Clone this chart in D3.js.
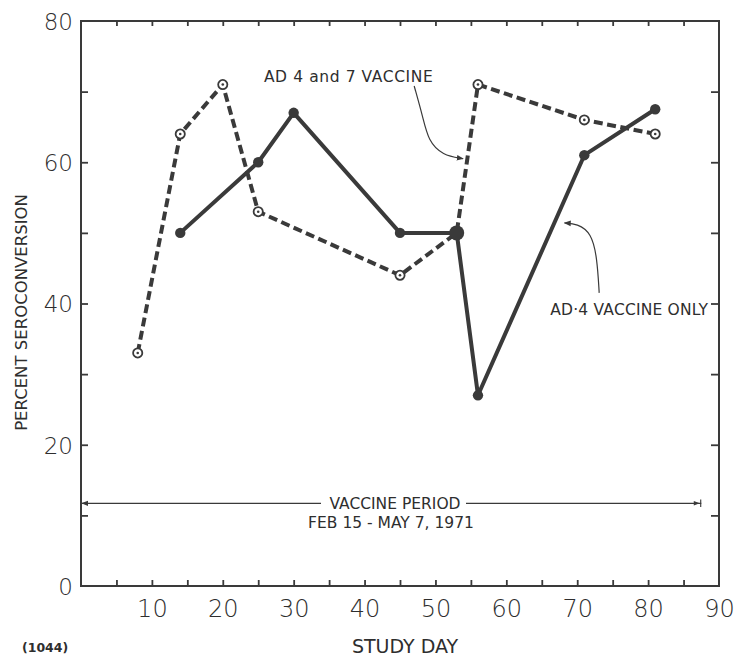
<!DOCTYPE html>
<html>
<head>
<meta charset="utf-8">
<script src="https://cdn.jsdelivr.net/npm/d3@7"></script>
<style>
  html, body { margin: 0; padding: 0; background: #fff; }
  svg { display: block; }
  text { font-family: "DejaVu Sans", "Liberation Sans", sans-serif; fill: #2e2e2e; }
</style>
</head>
<body>
<svg id="chart" width="735" height="658"></svg>
<script>
// Percent seroconversion by study day
const combinedDays   = [8, 14, 20, 25, 45, 53, 56, 71, 81];
const combinedValues = [33, 64, 71, 53, 44, 50, 71, 66, 64];
const ad4Days   = [14, 25, 30, 45, 53, 56, 71, 81];
const ad4Values = [50, 60, 67, 50, 50, 27, 61, 67.5];
const yTickLabels = [0, 20, 40, 60, 80];
const xTickLabels = [10, 20, 30, 40, 50, 60, 70, 80, 90];
const vaccinePeriod = [0, 87.5];   // study days covered by the vaccine period
const vaccinePeriodLevel = 11.7;   // percent level of the period arrow

const svg = d3.select("#chart");
const ink = "#3a3a3a";

const x = d3.scaleLinear().domain([0, 90]).range([81, 719]);
const y = d3.scaleLinear().domain([0, 80]).range([586, 21]);

// Frame
svg.append("rect")
  .attr("x", x(0)).attr("y", y(80))
  .attr("width", x(90) - x(0)).attr("height", y(0) - y(80))
  .attr("fill", "none").attr("stroke", ink).attr("stroke-width", 2);

// Inward ticks on all four sides
const minorX = d3.range(5, 90, 5);
const minorY = d3.range(10, 80, 10);
function tickAxis(axis, transform) {
  const g = svg.append("g").attr("transform", transform).call(axis);
  g.select(".domain").remove();
  g.selectAll(".tick line").attr("stroke", ink).attr("stroke-width", 1.8);
  g.selectAll(".tick text").remove();
}
tickAxis(d3.axisBottom(x).tickValues(minorX).tickSizeInner(-6).tickSizeOuter(0), `translate(0,${y(0)})`);
tickAxis(d3.axisTop(x).tickValues(minorX).tickSizeInner(-5).tickSizeOuter(0), `translate(0,${y(80)})`);
tickAxis(d3.axisLeft(y).tickValues(minorY).tickSizeInner(-7).tickSizeOuter(0), `translate(${x(0)},0)`);
tickAxis(d3.axisRight(y).tickValues(minorY).tickSizeInner(-8).tickSizeOuter(0), `translate(${x(90)},0)`);

// Tick labels
const yLab = svg.append("g").attr("transform", `translate(${x(0) - 8},0)`)
  .call(d3.axisLeft(y).tickValues(yTickLabels).tickSize(0).tickPadding(0));
yLab.select(".domain").remove();
yLab.selectAll("text").attr("font-size", 23).attr("font-weight", 200)
  .attr("fill", "#222").attr("dy", "0.36em")
  .style("font-family", "'DejaVu Sans', sans-serif");

const xLab = svg.append("g").attr("transform", `translate(0,${y(0) + 14})`)
  .call(d3.axisBottom(x).tickValues(xTickLabels).tickSize(0).tickPadding(0));
xLab.select(".domain").remove();
xLab.selectAll("text").attr("font-size", 24).attr("font-weight", 200)
  .attr("fill", "#222").attr("dy", "0.71em")
  .style("font-family", "'DejaVu Sans', sans-serif");

// Axis titles
svg.append("text").attr("x", 405).attr("y", 653)
  .attr("text-anchor", "middle").attr("font-size", 19)
  .text("STUDY  DAY");
svg.append("text")
  .attr("transform", `translate(27,${(185 + 440) / 2}) rotate(-90)`)
  .attr("text-anchor", "middle").attr("font-size", 16.5)
  .text("PERCENT  SEROCONVERSION");
svg.append("text").attr("x", 22).attr("y", 652)
  .attr("font-size", 12.5).attr("font-weight", "bold").attr("fill", "#444")
  .text("(1044)");

// Series lines
const line = d3.line().x(d => x(d[0])).y(d => y(d[1]));
const combined = combinedDays.map((d, i) => [d, combinedValues[i]]);
const ad4 = ad4Days.map((d, i) => [d, ad4Values[i]]);

svg.append("path").datum(combined).attr("d", line)
  .attr("fill", "none").attr("stroke", ink).attr("stroke-width", 4)
  .attr("stroke-dasharray", "9,4.5").attr("stroke-linejoin", "round");

svg.append("path").datum(ad4).attr("d", line)
  .attr("fill", "none").attr("stroke", ink).attr("stroke-width", 4)
  .attr("stroke-linejoin", "round");

// Open markers of the combined-vaccine series
const open = svg.append("g").selectAll("g").data(combined).join("g")
  .attr("transform", d => `translate(${x(d[0])},${y(d[1])})`);
open.append("circle").attr("r", 4.6).attr("fill", "#fff")
  .attr("stroke", ink).attr("stroke-width", 1.8);
open.append("circle").attr("r", 1.3).attr("fill", ink);

// Filled markers of the AD-4 series (the day-53 point is drawn larger)
svg.append("g").selectAll("circle").data(ad4).join("circle")
  .attr("cx", d => x(d[0])).attr("cy", d => y(d[1]))
  .attr("r", d => d[0] === 53 ? 7.5 : 5.2)
  .attr("fill", ink);

// Arrowhead marker
const defs = svg.append("defs");
defs.append("marker").attr("id", "head")
  .attr("viewBox", "0 0 10 10").attr("refX", 9).attr("refY", 5)
  .attr("markerWidth", 7).attr("markerHeight", 7)
  .attr("markerUnits", "userSpaceOnUse").attr("orient", "auto")
  .append("path").attr("d", "M0,1 L10,5 L0,9 Z").attr("fill", ink);
defs.append("marker").attr("id", "headbar")
  .attr("viewBox", "0 0 12 12").attr("refX", 11).attr("refY", 6)
  .attr("markerWidth", 9).attr("markerHeight", 9)
  .attr("markerUnits", "userSpaceOnUse").attr("orient", "auto")
  .append("path").attr("d", "M1,3 L9,6 L1,9 Z M9.5,1 L11,1 L11,11 L9.5,11 Z").attr("fill", ink);

// Series callouts
const curve = d3.line().x(d => x(d[0])).y(d => y(d[1])).curve(d3.curveBasis);
svg.append("text").attr("x", x(25.8)).attr("y", y(71.3))
  .attr("font-size", 15.5).attr("letter-spacing", 0.6).text("AD 4 and 7  VACCINE");
svg.append("path")
  .datum([[47.0, 70.8], [48.2, 66.5], [49.0, 63.0], [51.0, 61.0], [53.9, 60.5]])
  .attr("d", curve).attr("fill", "none").attr("stroke", ink).attr("stroke-width", 1.2)
  .attr("marker-end", "url(#head)");

svg.append("text").attr("x", x(66.2)).attr("y", y(38.4))
  .attr("font-size", 15.5).attr("letter-spacing", 0.2).text("AD·4 VACCINE ONLY");
svg.append("path")
  .datum([[73.1, 41.5], [72.8, 46.5], [72.0, 50.0], [70.0, 51.3], [68.2, 51.4]])
  .attr("d", curve).attr("fill", "none").attr("stroke", ink).attr("stroke-width", 1.2)
  .attr("marker-end", "url(#head)");

// Vaccine period span
const pY = y(vaccinePeriodLevel);
svg.append("text").attr("x", 395).attr("y", pY + 6)
  .attr("text-anchor", "middle").attr("font-size", 15.5)
  .text("VACCINE  PERIOD");
svg.append("text").attr("x", 391).attr("y", pY + 25)
  .attr("text-anchor", "middle").attr("font-size", 15.5)
  .text("FEB 15 - MAY 7, 1971");
svg.append("line").attr("x1", 321).attr("x2", x(vaccinePeriod[0]) + 1)
  .attr("y1", pY).attr("y2", pY).attr("stroke", ink).attr("stroke-width", 1.3)
  .attr("marker-end", "url(#head)");
svg.append("line").attr("x1", 466).attr("x2", x(vaccinePeriod[1]))
  .attr("y1", pY).attr("y2", pY).attr("stroke", ink).attr("stroke-width", 1.3)
  .attr("marker-end", "url(#headbar)");
</script>
</body>
</html>
